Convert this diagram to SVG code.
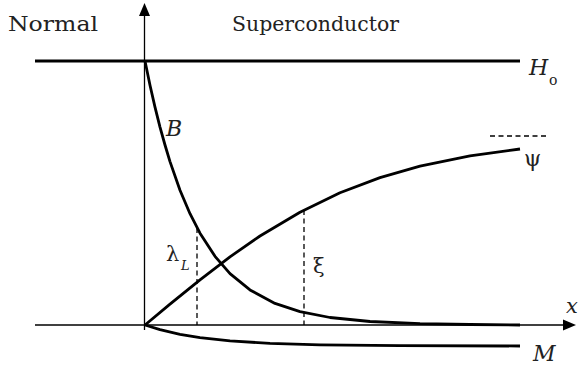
<svg xmlns="http://www.w3.org/2000/svg" width="580" height="369" viewBox="0 0 580 369">
<style>
.axis{stroke:#000;stroke-width:1.3;fill:none}
.curve{stroke:#000;stroke-width:2.8;fill:none;stroke-linejoin:round;stroke-linecap:butt}
.dash{stroke:#000;stroke-width:1.3;fill:none;stroke-dasharray:5 3.5}
text{fill:#222;font-family:"DejaVu Serif","Liberation Serif",serif}
.i{font-style:italic}
</style>
<rect width="580" height="369" fill="#fff"/>
<g id="connectors">
<line class="axis" x1="35" y1="325" x2="566" y2="325"/>
<polygon points="576,325 563,319.5 563,330.5" fill="#000"/>
<line class="axis" x1="144.5" y1="330" x2="144.5" y2="13"/>
<polygon points="144.5,3 139,16 150,16" fill="#000"/>
</g>
<g id="H0">
<line class="curve" x1="35" y1="61" x2="520" y2="61"/>
<text class="i" x="529" y="75" font-size="22">H</text>
<text x="549" y="85" font-size="14">o</text>
</g>
<g id="B">
<polyline class="curve" points="145,61 150,85.2 155,107.1 160,127.1 165,145 170,161.6 180,190.2 190,213.7 200,233.2 215,256.3 230,273.6 250,289.9 275,303.4 300,311.6 330,317.5 370,321.5 420,323.7 470,324.5 520,325"/>
<text class="i" x="166" y="136" font-size="22">B</text>
</g>
<g id="psi">
<polyline class="curve" points="145,325 170,304.1 200,279.8 230,256.8 260,236 300,212.2 340,192.7 380,177.6 420,166.2 470,155.9 520,149"/>
<line class="dash" x1="490" y1="136" x2="548" y2="136"/>
<text x="524" y="166" font-size="22">ψ</text>
</g>
<g id="M">
<polyline class="curve" points="145,325 160,329.6 180,334.3 200,337.6 230,340.9 270,343.4 320,344.9 400,345.7 520,346"/>
<text class="i" x="533" y="361" font-size="22">M</text>
</g>
<g id="lambdaL">
<line class="dash" x1="197" y1="228" x2="197" y2="325"/>
<text x="166" y="261" font-size="21">λ</text>
<text class="i" x="181" y="270" font-size="13">L</text>
</g>
<g id="xi">
<line class="dash" x1="304" y1="210" x2="304" y2="325"/>
<text x="313" y="273" font-size="21">ξ</text>
</g>
<g id="labels">
<text x="8" y="31" font-size="21" textLength="90" lengthAdjust="spacingAndGlyphs">Normal</text>
<text x="232" y="31" font-size="21" textLength="167" lengthAdjust="spacingAndGlyphs">Superconductor</text>
<text class="i" x="566" y="313" font-size="21">x</text>
</g>
</svg>
